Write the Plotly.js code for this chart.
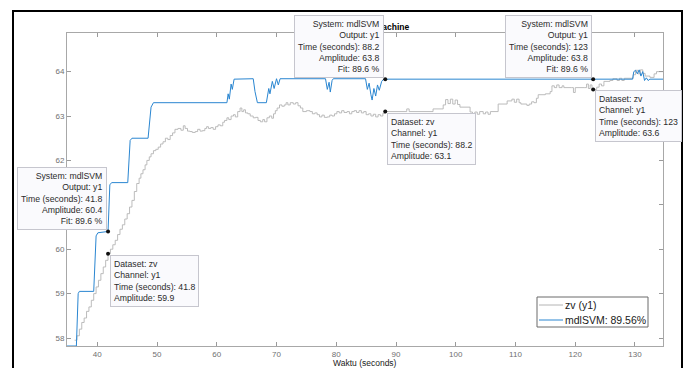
<!DOCTYPE html>
<html>
<head>
<meta charset="utf-8">
<script src="https://cdn.plot.ly/plotly-3.0.1.min.js"></script>
<style>
  html, body { margin: 0; padding: 0; background: #ffffff; }
  #chart { width: 691px; height: 368px; }
</style>
</head>
<body>
<div id="chart"></div>
<script>
// ---- data ----
const zvTime = [36.2,36.6,37.0,37.4,37.8,38.2,38.6,39.0,39.4,39.8,40.2,40.6,41.0,41.4,41.8,42.2,42.6,43.0,43.4,43.8,44.2,44.6,45.0,45.4,45.8,46.2,46.6,47.0,47.3,47.65,48.0,48.3,48.7,49.0,49.4,49.8,50.2,50.6,51.0,51.4,51.8,52.2,52.6,53.0,53.5,54.0,54.4,54.7,55.1,55.5,55.9,56.4,56.8,57.2,57.6,58.0,58.3,58.6,59.0,59.4,59.8,60.2,60.6,61.0,61.3,61.7,62.0,62.4,62.8,63.1,63.5,63.9,64.2,64.5,64.8,65.2,65.6,66.1,66.5,66.9,67.3,67.7,68.0,68.4,68.8,69.2,69.5,69.8,70.1,70.5,70.9,71.3,71.6,71.9,72.3,72.8,73.2,73.6,74.0,74.4,75.0,75.6,76.0,76.4,76.8,77.2,77.6,78.0,78.5,78.9,79.3,79.7,80.1,80.5,80.9,81.3,81.8,82.2,82.6,83.0,83.4,83.8,84.2,84.6,85.0,85.4,85.8,86.2,86.6,87.0,87.4,87.8,88.2,89.0,91.8,92.2,96.2,97.9,98.3,98.7,99.1,99.5,99.9,100.3,100.7,102.4,102.8,103.2,103.6,104.0,104.6,105.0,105.4,105.8,107.1,108.6,109.4,109.8,110.2,110.6,110.9,111.9,112.3,112.7,113.1,113.5,113.8,115.0,115.8,116.1,116.5,116.9,117.3,117.8,118.1,119.4,119.7,120.0,121.6,121.9,122.2,122.5,122.8,123.0,123.6,124.0,124.4,124.8,125.8,126.3,127.0,127.4,127.8,128.2,129.7,130.1,130.5,130.9,131.3,131.7,132.5,133.2,133.6,134.7];
const zvAmp = [57.95,58.05,58.2,58.35,58.45,58.6,58.7,58.85,59.0,59.15,59.3,59.45,59.6,59.75,59.9,60.0,60.1,60.2,60.33,60.45,60.55,60.68,60.8,60.95,61.1,61.3,61.48,61.6,61.7,61.79,61.9,62.0,62.08,62.15,62.22,62.25,62.3,62.37,62.42,62.5,62.47,62.56,62.62,62.7,62.72,62.68,62.78,62.72,62.66,62.65,62.63,62.65,62.7,62.66,62.67,62.72,62.76,62.72,62.74,62.7,62.76,62.8,62.78,62.86,62.9,62.96,62.92,63.0,63.03,62.98,63.1,63.18,63.1,63.14,63.07,63.05,63.0,62.96,62.97,62.9,62.87,62.92,62.87,62.96,63.0,62.95,63.05,63.12,63.18,63.25,63.22,63.25,63.3,63.25,63.3,63.27,63.3,63.23,63.18,63.1,63.12,63.1,63.05,63.07,63.03,62.98,63.02,62.97,62.98,63.02,63.0,63.05,63.1,63.07,63.12,63.08,63.1,63.05,63.1,63.12,63.08,63.12,63.07,63.1,63.03,63.05,63.0,63.04,62.98,63.03,63.0,63.06,63.1,63.1,63.16,63.1,63.16,63.25,63.37,63.28,63.38,63.27,63.36,63.26,63.2,63.09,63.05,63.09,63.04,63.1,63.05,63.09,63.04,63.1,63.27,63.34,63.38,63.31,63.38,63.3,63.27,63.24,63.27,63.32,63.3,63.4,63.48,63.5,63.55,63.68,63.64,63.7,63.64,63.68,63.64,63.64,63.53,63.64,63.64,63.72,63.62,63.7,63.62,63.6,63.65,63.72,63.68,63.78,63.8,63.84,63.8,63.85,63.8,63.85,63.93,64.03,63.95,64.04,63.96,63.9,63.87,63.95,64.0,64.0];

const svmTime = [34.9,36.5,36.8,37.0,39.4,39.8,40.1,41.8,42.1,42.4,45.1,45.5,45.8,48.5,49.0,49.4,61.7,61.9,62.1,62.4,62.6,62.9,66.1,66.4,66.8,68.3,68.7,68.9,69.3,69.6,70.0,70.3,70.6,78.2,78.5,78.8,79.0,79.3,79.5,84.9,85.2,85.5,85.8,86.0,86.3,86.6,86.9,87.2,87.6,88.0,88.2,123.0,129.6,129.8,130.1,130.4,130.7,131.0,131.3,131.6,131.9,132.2,132.5,134.7];
const svmAmp = [57.82,57.82,59.0,59.05,59.05,60.3,60.37,60.4,61.45,61.5,61.5,62.45,62.5,62.5,63.2,63.3,63.3,63.5,63.38,63.72,63.6,63.83,63.84,63.55,63.3,63.3,63.62,63.5,63.78,63.62,63.84,63.7,63.84,63.84,63.6,63.76,63.54,63.8,63.84,63.84,63.6,63.74,63.48,63.36,63.62,63.45,63.7,63.58,63.78,63.84,63.83,63.83,63.83,64.0,64.03,63.95,64.04,63.9,64.0,63.8,63.86,63.8,63.83,63.83];

const seriesNames = ['zv (y1)', 'mdlSVM: 89.56%'];
const seriesColors = ['#b4b4b4', '#2a86d1'];
const xTicks = [40,50,60,70,80,90,100,110,120,130];
const xTickLabels = ['40','50','60','70','80','90','100','110','120','130'];
const yTicks = [58,59,60,61,62,63,64];
const yTickLabels = ['58','59','60','','62','63','64']; // "61" is hidden under a data tip in the reference

// data tips
const tipX = [41.8, 41.8, 88.2, 88.2, 123, 123];
const tipY = [60.4, 59.9, 63.83, 63.1, 63.83, 63.6];
const tipKind = ['model','data','model','data','model','data'];
const tipText = [
  'System: mdlSVM<br>Output: y1<br>Time (seconds): 41.8<br>Amplitude: 60.4<br>Fit: 89.6 %',
  'Dataset: zv<br>Channel: y1<br>Time (seconds): 41.8<br>Amplitude: 59.9',
  'System: mdlSVM<br>Output: y1<br>Time (seconds): 88.2<br>Amplitude: 63.8<br>Fit: 89.6 %',
  'Dataset: zv<br>Channel: y1<br>Time (seconds): 88.2<br>Amplitude: 63.1',
  'System: mdlSVM<br>Output: y1<br>Time (seconds): 123<br>Amplitude: 63.8<br>Fit: 89.6 %',
  'Dataset: zv<br>Channel: y1<br>Time (seconds): 123<br>Amplitude: 63.6'
];
const chartTitle = 'Support Vector Machine';
const xTitle = 'Waktu (seconds)';

// ---- layout geometry ----
const W = 691, H = 368;
const mL = 67, mR = 28, mT = 33, mB = 22;
const pw = W - mL - mR, ph = H - mT - mB;
const px2x = p => (p - mL) / pw;
const py2y = p => (H - mB - p) / ph;

const FONT = '"Liberation Sans", Arial, Helvetica, sans-serif';

const traces = [
  {
    x: zvTime, y: zvAmp, name: seriesNames[0], type: 'scatter', mode: 'lines',
    line: {color: seriesColors[0], width: 0.9, shape: 'hv'}
  },
  {
    x: svmTime, y: svmAmp, name: seriesNames[1], type: 'scatter', mode: 'lines',
    line: {color: seriesColors[1], width: 1}
  },
  {
    x: tipX, y: tipY, type: 'scatter', mode: 'markers',
    marker: {color: '#111', size: 4}, hoverinfo: 'skip'
  }
];

const annotations = [
  {
    text: '<b>' + chartTitle + '</b>', xref: 'paper', yref: 'paper',
    x: px2x(412), y: py2y(27.5), xanchor: 'right', yanchor: 'middle',
    showarrow: false, font: {family: FONT, size: 8.5, color: '#000'}
  },
  {
    text: xTitle, xref: 'paper', yref: 'paper',
    x: 0.5, y: py2y(363), xanchor: 'center', yanchor: 'middle',
    showarrow: false, font: {family: FONT, size: 8.5, color: '#1a1a1a'}
  }
];
for (let i = 0; i < tipX.length; i++) {
  const model = tipKind[i] === 'model';
  annotations.push({
    text: tipText[i], xref: 'x', yref: 'y', x: tipX[i], y: tipY[i],
    xanchor: model ? 'right' : 'left', yanchor: model ? 'bottom' : 'top',
    xshift: model ? -1 : 2, yshift: model ? 1 : -1,
    align: model ? 'right' : 'left', showarrow: false,
    bgcolor: '#fafafd', bordercolor: '#c6c6ce', borderwidth: 1, borderpad: 3,
    font: {family: FONT, size: 8.7, color: '#2b2b2b'}
  });
}

// MATLAB-style legend box (lower right)
const legBox = {x0: 537, x1: 648, y0: 297, y1: 327};
const legRows = [305, 320];
const shapes = [
  {
    type: 'rect', xref: 'paper', yref: 'paper',
    x0: px2x(13), x1: px2x(682), y0: py2y(380), y1: py2y(11),
    line: {color: '#000000', width: 2}, fillcolor: 'rgba(0,0,0,0)', layer: 'above'
  },
  {
    type: 'rect', xref: 'paper', yref: 'paper',
    x0: px2x(legBox.x0), x1: px2x(legBox.x1), y0: py2y(legBox.y1), y1: py2y(legBox.y0),
    line: {color: '#6a6a6a', width: 1}, fillcolor: '#ffffff', layer: 'above'
  }
];
for (let i = 0; i < seriesNames.length; i++) {
  shapes.push({
    type: 'line', xref: 'paper', yref: 'paper',
    x0: px2x(539), x1: px2x(563), y0: py2y(legRows[i]), y1: py2y(legRows[i]),
    line: {color: seriesColors[i], width: 1}, layer: 'above'
  });
  annotations.push({
    text: seriesNames[i], xref: 'paper', yref: 'paper',
    x: px2x(564), y: py2y(legRows[i]), xanchor: 'left', yanchor: 'middle',
    showarrow: false, borderpad: 0,
    font: {family: FONT, size: 10.5, color: '#1a1a1a'}
  });
}

const layout = {
  width: W, height: H,
  margin: {l: mL, r: mR, t: mT, b: mB, pad: 0},
  paper_bgcolor: '#ffffff', plot_bgcolor: '#ffffff',
  font: {family: FONT, size: 8, color: '#666'},
  showlegend: false,
  xaxis: {
    range: [34.93, 134.69], tickvals: xTicks, ticktext: xTickLabels,
    ticks: 'inside', ticklen: 4, tickcolor: '#9a9a9a', tickwidth: 1,
    showline: true, linecolor: '#a8a8a8', linewidth: 1, mirror: 'ticks',
    showgrid: false, zeroline: false,
    tickfont: {family: FONT, size: 8, color: '#707070'}
  },
  yaxis: {
    range: [57.82, 64.87], tickvals: yTicks, ticktext: yTickLabels,
    ticks: 'inside', ticklen: 4, tickcolor: '#9a9a9a', tickwidth: 1,
    showline: true, linecolor: '#a8a8a8', linewidth: 1, mirror: 'ticks',
    showgrid: false, zeroline: false,
    tickfont: {family: FONT, size: 8, color: '#707070'}
  },
  shapes: shapes,
  annotations: annotations
};

Plotly.newPlot('chart', traces, layout, {displayModeBar: false, staticPlot: true});
</script>
</body>
</html>
